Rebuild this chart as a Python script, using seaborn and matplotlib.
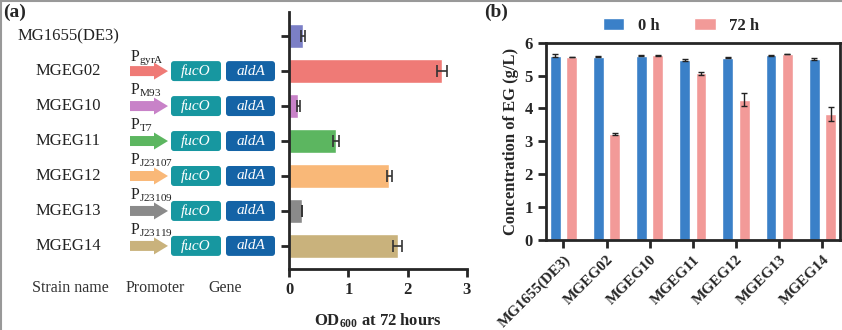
import numpy as np
import pandas as pd
import matplotlib
matplotlib.use("Agg")
import matplotlib.pyplot as plt
import seaborn as sns
from matplotlib.patches import FancyArrow, FancyBboxPatch
from matplotlib.lines import Line2D

# ---------------- data ----------------
strains = ["MG1655(DE3)", "MGEG02", "MGEG10", "MGEG11", "MGEG12", "MGEG13", "MGEG14"]
od600 = [0.24, 2.58, 0.16, 0.79, 1.69, 0.22, 1.83]
od600_err = [0.03, 0.08, 0.03, 0.05, 0.04, 0.0, 0.08]
od_colors = ["#7b7fc6", "#ef7a76", "#c882c8", "#5cb660", "#f9b878", "#8a8a8a", "#c9b27c"]
promoters = [None, "gyrA", "M93", "T7", "J23107", "J23109", "J23119"]
genes = ["fucO", "aldA"]
gene_colors = ["#1797a0", "#1463a6"]

times = ["0 h", "72 h"]
eg_0h = [5.60, 5.58, 5.61, 5.47, 5.54, 5.62, 5.51]
eg_0h_err = [0.05, 0.02, 0.02, 0.03, 0.02, 0.02, 0.03]
eg_72h = [5.58, 3.22, 5.62, 5.07, 4.27, 5.66, 3.83]
eg_72h_err = [0.0, 0.02, 0.02, 0.04, 0.19, 0.0, 0.22]
time_colors = ["#3a80c8", "#f29a98"]

# ---------------- style ----------------
sns.set_theme(style="ticks")
plt.rcParams["font.family"] = ["Liberation Serif", "DejaVu Serif"]
plt.rcParams["mathtext.fontset"] = "custom"
plt.rcParams["mathtext.rm"] = "Liberation Serif"
plt.rcParams["mathtext.it"] = "Liberation Serif:italic"
plt.rcParams["mathtext.bf"] = "Liberation Serif:bold"

W, H = 842, 330
fig = plt.figure(figsize=(W / 100, H / 100), dpi=100)

def fx(px):
    return px / W

def fy(py):
    return 1 - py / H

# ---------------- panel (a) ----------------
axa = fig.add_axes([fx(289), fy(269), fx(467) - fx(289), fy(12) - fy(269)])
dfa = pd.DataFrame({"strain": strains, "od": od600})
sns.barplot(data=dfa, y="strain", x="od", hue="strain", palette=od_colors,
            orient="h", width=0.68, errorbar=None, legend=False, ax=axa, saturation=1)
ypos = [p.get_y() + p.get_height() / 2 for p in axa.patches]
axa.errorbar(od600, ypos, xerr=od600_err, fmt="none", ecolor="#333333",
             elinewidth=1.2, capsize=4, capthick=1.2)
axa.set_xlim(0, 3)
axa.set_ylim(6.66, -0.69)
axa.set_xticks([0, 1, 2, 3])
axa.set_yticks(range(len(strains)))
axa.set_yticklabels([])
axa.set_ylabel("")
axa.set_xlabel(r"OD$_{\mathbf{600}}$ at 72 hours", fontsize=12, fontweight="bold", labelpad=10)
for s in ["top", "right"]:
    axa.spines[s].set_visible(False)
for s in ["left", "bottom"]:
    axa.spines[s].set_linewidth(2)
axa.tick_params(axis="both", width=2, length=6, direction="out")
for lab in axa.get_xticklabels():
    lab.set_fontweight("bold")
    lab.set_fontsize(12)

# annotation axes, sharing the row positions of panel (a)
axn = fig.add_axes([0, fy(269), fx(289), fy(12) - fy(269)])
axn.set_xlim(0, 289)
axn.set_ylim(6.66, -0.69)
axn.axis("off")
row_px = 35.0
for i, (name, prom, col) in enumerate(zip(strains, promoters, od_colors)):
    axn.text(68, i, name, ha="center", va="center", fontsize=12, color="#222222")
    if prom is None:
        continue
    axn.add_patch(FancyArrow(130, i, 38, 0, width=10 / row_px, head_width=17 / row_px,
                             head_length=14, length_includes_head=True,
                             color=col, lw=0))
    axn.text(130, i - 11 / row_px, r"P$_{\mathrm{%s}}$" % prom, ha="left", va="baseline",
             fontsize=11.5, color="#222222")
    for gx0, gx1, g, gc in zip([171, 226], [221, 275], genes, gene_colors):
        axn.add_patch(FancyBboxPatch((gx0 + 2, i - 8 / row_px), gx1 - gx0 - 4, 16 / row_px,
                                     boxstyle="round,pad=2,rounding_size=3",
                                     mutation_aspect=1 / row_px, fc=gc, ec="none"))
        axn.text((gx0 + gx1) / 2, i, g, ha="center", va="center", fontsize=11,
                 style="italic", color="white")
for txt, cx in [("Strain name", 70), ("Promoter", 155), ("Gene", 225)]:
    axn.text(cx, 6.66 + 0.55, txt, ha="center", va="center", fontsize=11.5,
             color="#333333", clip_on=False)

# ---------------- panel (b) ----------------
axb = fig.add_axes([fx(545.7), fy(240), fx(840) - fx(545.7), fy(42.7) - fy(240)])
dfb = pd.DataFrame({
    "strain": strains * 2,
    "time": [times[0]] * len(strains) + [times[1]] * len(strains),
    "eg": eg_0h + eg_72h,
})
sns.barplot(data=dfb, x="strain", y="eg", hue="time", palette=time_colors,
            width=0.76, gap=0.34, errorbar=None, ax=axb, saturation=1)
errs = eg_0h_err + eg_72h_err
vals = eg_0h + eg_72h
bars = [p for p in axb.patches if p.get_height() > 0][:len(vals)]
xs = [p.get_x() + p.get_width() / 2 for p in bars]
axb.errorbar(xs, vals, yerr=errs, fmt="none", ecolor="#222222", elinewidth=1,
             capsize=2.5, capthick=1)
axb.set_ylim(0, 6)
axb.set_xlim(-0.41, 6.41)
axb.set_yticks(range(0, 7))
axb.set_xlabel("")
axb.set_ylabel("Concentration of EG (g/L)", fontsize=12, fontweight="bold", labelpad=4)
for s in axb.spines.values():
    s.set_linewidth(2)
axb.tick_params(axis="both", width=2, length=6, direction="out")
axb.set_xticks(range(len(strains)))
axb.set_xticklabels(strains, rotation=45, ha="right", rotation_mode="anchor",
                    fontsize=11, fontweight="bold")
for lab in axb.get_yticklabels():
    lab.set_fontweight("bold")
    lab.set_fontsize(12)
leg = axb.legend(ncol=2, frameon=False, loc="center", bbox_to_anchor=(fx(681), fy(26)),
                 bbox_transform=fig.transFigure, handlelength=1.3, handleheight=0.7,
                 columnspacing=2.1, handletextpad=0.8,
                 prop={"family": "Liberation Serif", "weight": "bold", "size": 12})

# ---------------- panel labels & frame ----------------
fig.text(fx(3), fy(12), "(a)", fontsize=14, fontweight="bold", va="center", ha="left")
fig.text(fx(484), fy(12), "(b)", fontsize=14, fontweight="bold", va="center", ha="left")
fig.add_artist(Line2D([0.001, 0.001], [0, 1], color="#999999", lw=1.5, transform=fig.transFigure))
fig.add_artist(Line2D([0, 1], [0.998, 0.998], color="#999999", lw=1.5, transform=fig.transFigure))

fig.savefig("out.png", dpi=100)
